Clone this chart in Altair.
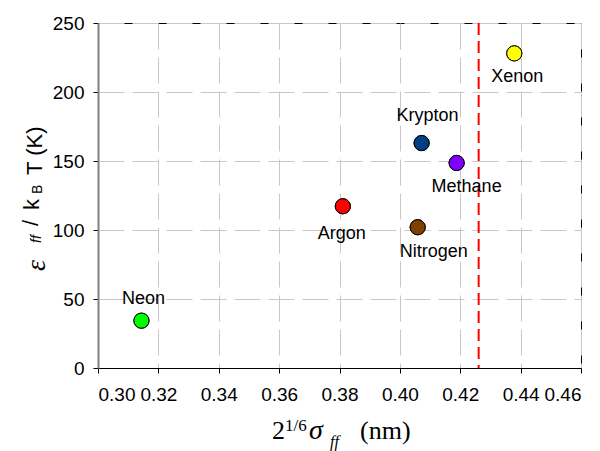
import altair as alt
import pandas as pd

# Fluid-fluid Lennard-Jones parameters of simple gases
gases = ["Neon", "Argon", "Nitrogen", "Krypton", "Methane", "Xenon"]
sigma_eff = [0.3144, 0.3811, 0.4059, 0.4072, 0.4188, 0.4379]   # 2^(1/6) sigma_ff, nm
eps_over_k = [34.3, 117.2, 102.0, 163.0, 148.6, 228.0]          # eps_ff / k_B, K
colors = ["#00ff00", "#ff0000", "#804000", "#004080", "#8000ff", "#ffff00"]

# label offsets (pixels) relative to each marker
label_dx = [2, -1, 16, 6, 10, 3]
label_dy = [-17, 33, 30, -22, 29, 29]

# critical size marked by the dashed line, nm
limit_x = 0.4261

x_ticks = [0.30, 0.32, 0.34, 0.36, 0.38, 0.40, 0.42, 0.44, 0.46]
y_ticks = [0, 50, 100, 150, 200, 250]

df = pd.DataFrame({"gas": gases, "sigma": sigma_eff, "eps": eps_over_k, "color": colors})

SANS = "Liberation Sans"
SERIF = "Liberation Serif"

x_enc = alt.X(
    "sigma:Q",
    scale=alt.Scale(domain=[0.30, 0.46], nice=False, zero=False),
    axis=alt.Axis(
        values=x_ticks, format=".2f", title=None,
        domainColor="black", domainWidth=1,
        gridDash=[26, 8], gridColor="#c8c8c8",
        labelFontSize=19, labelFont=SANS, labelColor="black", labelPadding=12,
        tickColor="black", tickSize=5,
    ),
)
y_enc = alt.Y(
    "eps:Q",
    scale=alt.Scale(domain=[0, 250], nice=False),
    axis=alt.Axis(
        values=y_ticks, title=None,
        domainColor="#808080", domainWidth=2,
        gridDash=[26, 8], gridColor="#c8c8c8",
        labelFontSize=19, labelFont=SANS, labelColor="black", labelPadding=9,
        tickColor="black", tickSize=5,
    ),
)

base = alt.Chart(df)

points = base.mark_point(
    filled=True, size=230, stroke="black", strokeWidth=1, opacity=1
).encode(
    x=x_enc, y=y_enc,
    fill=alt.Fill("color:N", scale=None),
)

limit_rule = alt.Chart(pd.DataFrame({"limit": [limit_x]})).mark_rule(
    color="#ff0000", strokeWidth=2, strokeDash=[12, 6]
).encode(x="limit:Q")

labels = []
for g, dx, dy in zip(gases, label_dx, label_dy):
    labels.append(
        base.transform_filter(alt.datum.gas == g).mark_text(
            font=SANS, fontSize=18, color="black", align="center",
            baseline="alphabetic", dx=dx, dy=dy,
        ).encode(x="sigma:Q", y="eps:Q", text="gas:N")
    )


def piece(text, x, y, size, font=SANS, style="normal", angle=0):
    """One fragment of a composed axis title, placed in view pixels."""
    return alt.Chart(alt.Data(values=[{"t": text}])).mark_text(
        font=font, fontSize=size, fontStyle=style, color="black",
        align="left", baseline="alphabetic", angle=angle,
    ).encode(x=alt.value(x), y=alt.value(y), text="t:N")


# x title: 2^(1/6) sigma_ff (nm)
x_title = [
    piece("2", 174, 416, 26, SERIF),
    piece("1/6", 187, 408, 17, SERIF),
    piece("σ", 211, 416, 28, SERIF, "italic"),
    piece("ff", 232, 424, 16, SERIF, "italic"),
    piece("(nm)", 262, 416, 26, SERIF),
]

# y title: eps_ff / k_B T (K), reading upwards
y_title = [
    piece("ε", -53, 248, 28, SERIF, "italic", 270),
    piece("ff", -57, 220, 14, SANS, "italic", 270),
    piece("/", -60, 203, 22, SANS, "normal", 270),
    piece("k", -59, 187, 22, SANS, "normal", 270),
    piece("B", -56, 171, 14, SANS, "normal", 270),
    piece("T (K)", -56, 152, 22, SANS, "normal", 270),
]

chart = alt.layer(
    points, limit_rule, *labels, points, *x_title, *y_title
).properties(
    width=483,
    height=345,
    autosize=alt.AutoSizeParams(type="none"),
    padding={"left": 98, "top": 23, "right": 19, "bottom": 83},
).configure_view(
    stroke="black", strokeWidth=1
)

chart.save("out.html", embed_options={"renderer": "svg", "actions": False})
